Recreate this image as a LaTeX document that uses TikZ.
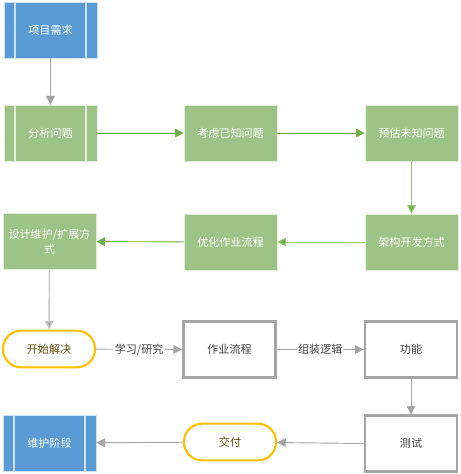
\documentclass[tikz,border=0pt]{standalone}
\usepackage{fontspec}
\setmainfont{Noto Sans CJK SC}
\usetikzlibrary{arrows.meta}
\definecolor{bblue}{RGB}{91,155,213}
\definecolor{bgreen}{RGB}{158,195,135}
\definecolor{agreen}{RGB}{112,173,71}
\definecolor{lgreen}{RGB}{150,200,120}
\definecolor{agray}{RGB}{165,165,165}
\definecolor{lgray}{RGB}{200,200,200}
\definecolor{orng}{RGB}{255,192,0}
\definecolor{ptext}{RGB}{95,75,10}
\definecolor{dtext}{RGB}{64,64,64}
\tikzset{
  base/.style={minimum width=69.75pt, minimum height=42pt, inner sep=1pt, align=center, font=\fontsize{8.3}{11.5}\selectfont},
  gbox/.style={base, fill=bgreen, draw=white!70!bgreen, line width=0.5pt, text=white},
  proc/.style={base, draw=white!70!#1, line width=0.5pt, fill=#1, text=white,
    path picture={\draw[white!70!#1, line width=0.9pt]
      ([xshift=8.25pt]path picture bounding box.north west) -- ([xshift=8.25pt]path picture bounding box.south west)
      ([xshift=-8.25pt]path picture bounding box.north east) -- ([xshift=-8.25pt]path picture bounding box.south east);}},
  graybox/.style={base, draw=agray, line width=2.1pt, fill=white, text=dtext, minimum width=69pt, minimum height=41.5pt},
  pill/.style={base, draw=orng, line width=1.6pt, rounded corners=13.5pt, fill=white, text=ptext, minimum height=27.5pt, minimum width=69pt},
  garr/.style={draw=agreen, line width=0.7pt, -{Triangle[length=6.5pt, width=6.5pt, fill=agreen]}},
  grarr/.style={draw=agray, line width=0.7pt, -{Triangle[length=6.5pt, width=6.5pt, fill=agray]}},
  lbl/.style={fill=white, inner sep=1pt, text=dtext, font=\fontsize{8.3}{10}\selectfont}
}
\begin{document}
\begin{tikzpicture}[x=0.75pt, y=-0.75pt]
\useasboundingbox (0,0) rectangle (460,474);
\node[proc=bblue] (req) at (50.5,30) {项目需求};
\node[proc=bgreen] (ana) at (50.5,133) {分析问题};
\node[gbox] (known) at (230.5,133) {考虑已知问题};
\node[gbox] (unknown) at (411.5,133) {预估未知问题};
\node[gbox] (arch) at (411.5,242) {架构开发方式};
\node[gbox] (opt) at (230.5,242) {优化作业流程};
\node[gbox] (design) at (49.5,241.5) {设计维护/扩展方\\式};
\node[pill] (start) at (49,349) {开始解决};
\node[graybox] (flow) at (229.5,349.5) {作业流程};
\node[graybox] (func) at (411,349.5) {功能};
\node[graybox] (test) at (411,443.5) {测试};
\node[pill] (deliver) at (230,442) {交付};
\node[proc=bblue] (maint) at (49.5,443) {维护阶段};

\draw[grarr] (req) -- (ana);
\draw[garr] (ana) -- (known);
\draw[garr] (known) -- (unknown);
\draw[garr, draw=lgreen] (unknown) -- (arch);
\draw[garr, draw=lgreen] (arch) -- (opt);
\draw[garr] (opt) -- (design);
\draw[grarr, draw=lgray, line width=1.1pt] (design) -- (start);
\draw[grarr] (start) -- node[lbl] {学习/研究} (flow.west);
\draw[grarr] (flow.east) -- node[lbl] {组装逻辑} (func.west);
\draw[grarr] (func.south) -- (test.north);
\draw[grarr] (test.west) -- (deliver);
\draw[grarr] (deliver) -- (maint);
\end{tikzpicture}
\end{document}
